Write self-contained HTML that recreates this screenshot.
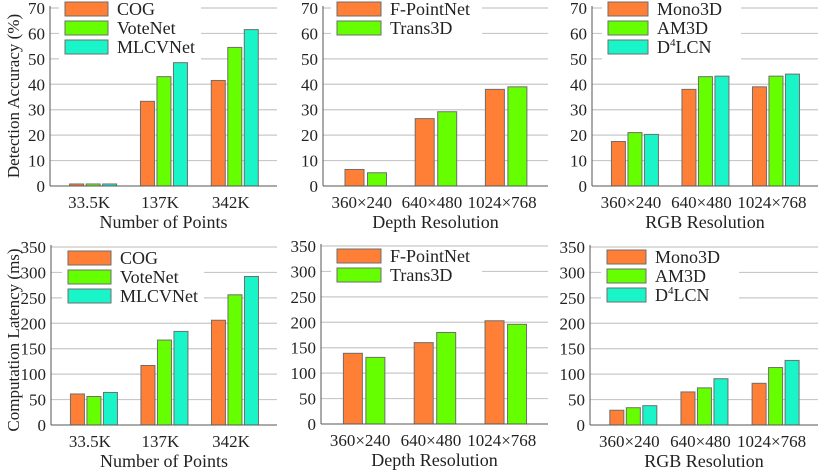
<!DOCTYPE html>
<html><head><meta charset="utf-8">
<style>
html,body{margin:0;padding:0;background:#fff;}
svg, svg text{font-family:"Liberation Serif","Times New Roman",serif;}
svg{display:block;}
</style></head>
<body>
<svg id="chart" width="830" height="471" viewBox="0 0 830 471" xmlns="http://www.w3.org/2000/svg" font-family="Liberation Serif, serif"></svg>
<script>
// ---- data ----
const catPoints = ["33.5K","137K","342K"];
const catRes = ["360×240","640×480","1024×768"];
const seriesPts = ["COG","VoteNet","MLCVNet"];
const seriesDepth = ["F-PointNet","Trans3D"];
const seriesRGB = ["Mono3D","AM3D","D4LCN"];
const accCOG = [0.8, 33.3, 41.5];
const accVoteNet = [0.8, 43, 54.5];
const accMLCVNet = [0.8, 48.5, 61.5];
const accFPointNet = [6.5, 26.5, 38];
const accTrans3D = [5.2, 29.2, 39];
const accMono3D = [17.5, 38, 39];
const accAM3D = [21, 43, 43.2];
const accD4LCN = [20.3, 43.2, 44];
const latCOG = [61, 117, 206];
const latVoteNet = [56, 167, 256];
const latMLCVNet = [64, 184, 292];
const latFPointNet = [139, 160, 203];
const latTrans3D = [131, 180, 196];
const latMono3D = [29, 65, 82];
const latAM3D = [34, 73, 113];
const latD4LCN = [38, 91, 127];
const accTicks = [0,10,20,30,40,50,60,70];
const latTicks = [0,50,100,150,200,250,300,350];

const colors = ["#ff7f36","#66ff00","#19f5c8"];
const FS = 18, TFS = 17;
const NS = "http://www.w3.org/2000/svg";
const svg = document.getElementById("chart");
function mk(tag, attrs, parent){
  const e = document.createElementNS(NS, tag);
  for (const k in attrs) e.setAttribute(k, attrs[k]);
  (parent||svg).appendChild(e);
  return e;
}

const panels = [
  {id:"acc-points", x0:50, x1:277, y0:186, yTop:8, ymax:70, ticks:accTicks, cats:catPoints, names:seriesPts, data:[accCOG,accVoteNet,accMLCVNet], xt:"Number of Points", leg:{x:65,y:9,tx:117}},
  {id:"acc-depth", x0:323, x1:548, y0:186, yTop:8, ymax:70, ticks:accTicks, cats:catRes, names:seriesDepth, data:[accFPointNet,accTrans3D], xt:"Depth Resolution", leg:{x:337,y:9,tx:390}},
  {id:"acc-rgb", x0:592, x1:818, y0:186, yTop:8, ymax:70, ticks:accTicks, cats:catRes, names:seriesRGB, data:[accMono3D,accAM3D,accD4LCN], xt:"RGB Resolution", leg:{x:608,y:9,tx:657}},
  {id:"lat-points", x0:51, x1:277, y0:425, yTop:247, ymax:350, ticks:latTicks, cats:catPoints, names:seriesPts, data:[latCOG,latVoteNet,latMLCVNet], xt:"Number of Points", leg:{x:68,y:258,tx:120}},
  {id:"lat-depth", x0:321, x1:548, y0:424, yTop:246, ymax:350, ticks:latTicks, cats:catRes, names:seriesDepth, data:[latFPointNet,latTrans3D], xt:"Depth Resolution", leg:{x:337,y:256,tx:390}},
  {id:"lat-rgb", x0:590, x1:818, y0:425, yTop:247, ymax:350, ticks:latTicks, cats:catRes, names:seriesRGB, data:[latMono3D,latAM3D,latD4LCN], xt:"RGB Resolution", leg:{x:607,y:257,tx:655}}
];

panels.forEach(p=>{
  const g = mk("g",{});
  
  
  const yS = v => p.y0 - v/p.ymax*(p.y0-p.yTop);
  const span = (p.x1 - p.x0);
  const groupStep = span*0.312;
  const firstC = p.x0 + span*0.19;
  const xC = i => firstC + i*groupStep;
  const ns = p.data.length;
  const bw = ns===3 ? 14 : 19;
  const step = ns===3 ? 16.5 : 22.5;
  p.ticks.forEach(t=>{
    if (t===0) return;
    const l = mk("line",{x1:p.x0,x2:p.x1,y1:yS(t),y2:yS(t),stroke:"#c8c8c8","stroke-width":1.2},g);
    
    
  });
  p.data.forEach((arr,s)=>{
    arr.forEach((v,i)=>{
      const x = xC(i) + (s-(ns-1)/2)*step - bw/2;
      const r = mk("rect",{x:x,y:yS(v),width:bw,height:p.y0-yS(v),fill:colors[s],stroke:"#6e6e6e","stroke-width":1},g);
      
      
    });
  });
  const lg = mk("g",{},g);
  
  
  mk("rect",{x:p.leg.x-6,y:p.leg.y-9,width:(p.leg.tx-p.leg.x)+ (ns===3?90:98),height:ns*19+4,fill:"#fff"},lg);
  p.names.forEach((nm,s)=>{
    const cy = p.leg.y + s*19;
    const sw = mk("rect",{x:p.leg.x,y:cy-7,width:p.leg.tx-p.leg.x-9,height:14,fill:colors[s],stroke:"#6e6e6e","stroke-width":1},lg);
    
    
    const t = mk("text",{x:p.leg.tx,y:cy+6,"font-size":FS,fill:"#222"},lg);
    
    
    if (nm==="D4LCN"){
      t.appendChild(document.createTextNode("D"));
      const sup = mk("tspan",{"font-size":11,dy:-7},t); sup.textContent="4";
      const rest = mk("tspan",{dy:7},t); rest.textContent="LCN";
    } else t.textContent = nm;
  });
  const ax = mk("line",{x1:p.x0,x2:p.x0,y1:p.yTop-2,y2:p.y0,stroke:"#555","stroke-width":1},g);
  
  
  const bx = mk("line",{x1:p.x0,x2:p.x1,y1:p.y0,y2:p.y0,stroke:"#555","stroke-width":1},g);
  
  
  p.ticks.forEach(t=>{
    const tl = mk("text",{x:p.x0-5,y:yS(t)+6,"text-anchor":"end","font-size":TFS,fill:"#222"},g);
    
    
    tl.textContent = t;
  });
  p.cats.forEach((c,i)=>{
    const tl = mk("text",{x:xC(i)-4,y:p.y0+22,"text-anchor":"middle","font-size":TFS,fill:"#222"},g);
    
    
    tl.textContent = c;
  });
  const xt = mk("text",{x:(p.x0+p.x1)/2,y:p.y0+42,"text-anchor":"middle","font-size":FS,fill:"#222"},g);
  
  
  xt.textContent = p.xt;
});

const yt1 = mk("text",{transform:"translate(19,96) rotate(-90)","text-anchor":"middle","font-size":17,fill:"#222"});


yt1.textContent = "Detection Accuracy (%)";
const yt2 = mk("text",{transform:"translate(19,340) rotate(-90)","text-anchor":"middle","font-size":17,fill:"#222"});


yt2.textContent = "Computation Latency (ms)";
</script>
</body></html>
